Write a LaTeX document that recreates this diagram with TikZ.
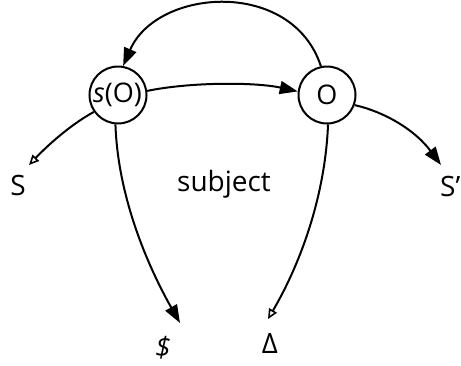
\documentclass[tikz,border=0pt]{standalone}
\usepackage{fontspec}
\setmainfont{Open Sans}
\usetikzlibrary{arrows.meta}
\tikzset{
  state/.style={circle,draw,line width=2pt,minimum size=57pt,inner sep=0pt,font=\fontsize{27}{30}\selectfont},
  lbl/.style={font=\fontsize{28}{32}\selectfont,inner sep=0pt},
  conn/.style={line width=2pt},
  fill tip/.style={-{Triangle[length=18pt,width=13pt]}},
  open tip/.style={-{Triangle[open,length=10pt,width=9pt,line width=1.6pt]}}
}
\begin{document}
\begin{tikzpicture}[x=1pt,y=-1pt]
\useasboundingbox (0,0) rectangle (461,365);
\node[state] (so) at (118,95) {\kern-1pt\textit{s}(O)};
\node[state] (o) at (327,95) {O};
\coordinate (sEnd) at (29,165);
\coordinate (spEnd) at (441,165);
\coordinate (dolEnd) at (180,323);
\coordinate (delEnd) at (268,319);
\node[lbl] (S) at (18,185) {S};
\node[lbl,anchor=east] (Sp) at (460.5,186) {S'};
\node[lbl] (dol) at (163,348) {\textit{\$}};
\node[lbl] (del) at (270,343) {Δ};
\node[lbl] (subj) at (224,184) {subject};
\draw[conn,fill tip] (o.102) .. controls (292,-22) and (157,-12) .. (so.80);
\draw[conn,fill tip] (so.8) .. controls (190,82) and (255,82) .. (o.173);
\draw[conn,open tip] (so.215) .. controls (70,125) and (47,146) .. (sEnd);
\draw[conn,fill tip] (o.-20) .. controls (385,112) and (415,130) .. (spEnd);
\draw[conn,fill tip] (so.-95) .. controls (118,200) and (150,270) .. (dolEnd);
\draw[conn,open tip] (o.-88) .. controls (325,200) and (298,268) .. (delEnd);
\end{tikzpicture}
\end{document}
